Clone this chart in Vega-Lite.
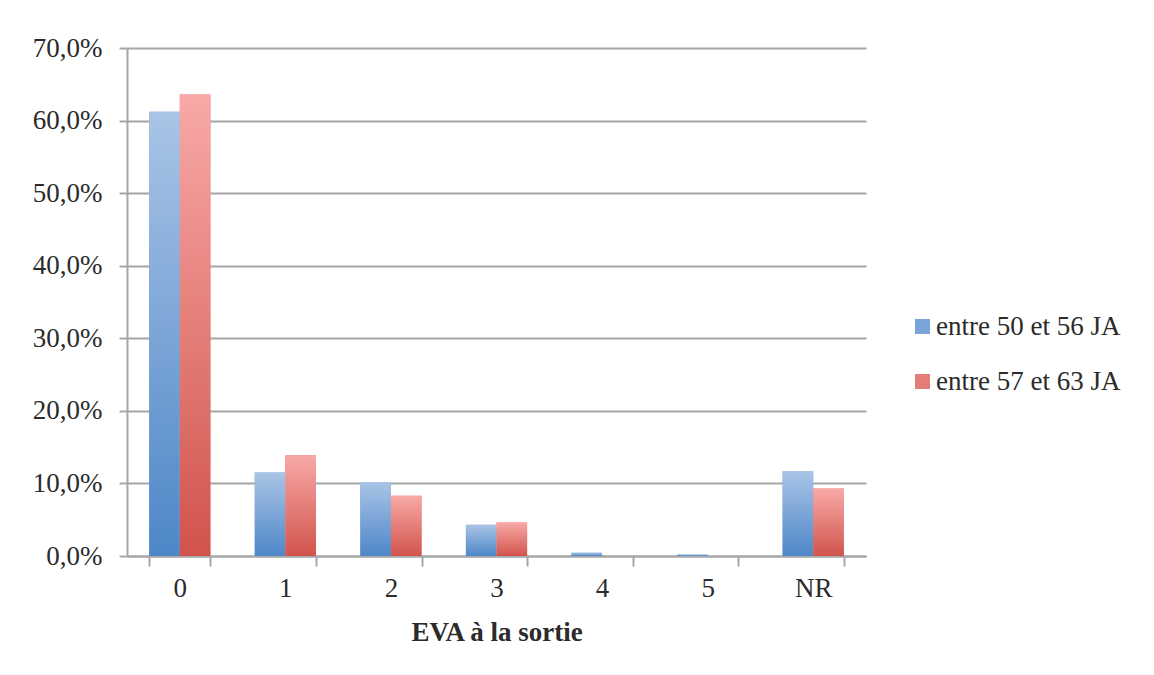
{
  "$schema": "https://vega.github.io/schema/vega-lite/v6.json",
  "width": 739,
  "height": 508,
  "padding": {"left": 127, "top": 48, "right": 288, "bottom": 119},
  "autosize": {"type": "none"},
  "background": "white",
  "config": {"view": {"stroke": null}, "font": "Liberation Serif", "legend": {"labelFont": "Liberation Serif, serif"}},
  "data": {
    "values": [
      {"eva": "0", "groupe": "entre 50 et 56 JA", "pct": 0.612},
      {"eva": "0", "groupe": "entre 57 et 63 JA", "pct": 0.636},
      {"eva": "1", "groupe": "entre 50 et 56 JA", "pct": 0.115},
      {"eva": "1", "groupe": "entre 57 et 63 JA", "pct": 0.139},
      {"eva": "2", "groupe": "entre 50 et 56 JA", "pct": 0.102},
      {"eva": "2", "groupe": "entre 57 et 63 JA", "pct": 0.083},
      {"eva": "3", "groupe": "entre 50 et 56 JA", "pct": 0.043},
      {"eva": "3", "groupe": "entre 57 et 63 JA", "pct": 0.046},
      {"eva": "4", "groupe": "entre 50 et 56 JA", "pct": 0.0045},
      {"eva": "4", "groupe": "entre 57 et 63 JA", "pct": 0},
      {"eva": "5", "groupe": "entre 50 et 56 JA", "pct": 0.002},
      {"eva": "5", "groupe": "entre 57 et 63 JA", "pct": 0},
      {"eva": "NR", "groupe": "entre 50 et 56 JA", "pct": 0.117},
      {"eva": "NR", "groupe": "entre 57 et 63 JA", "pct": 0.093}
    ]
  },
  "encoding": {
    "x": {
      "field": "eva",
      "type": "nominal",
      "sort": ["0", "1", "2", "3", "4", "5", "NR"],
      "scale": {"paddingInner": 0.42, "paddingOuter": 0.21},
      "axis": {
        "title": "EVA à la sortie",
        "labelAngle": 0,
        "tickBand": "extent",
        "domainColor": "#A6A6A6",
        "domainWidth": 2,
        "tickColor": "#A6A6A6",
        "tickWidth": 2,
        "tickSize": 10,
        "labelFont": "Liberation Serif",
        "labelFontSize": 27,
        "labelColor": "#2b2b2b",
        "labelPadding": 9,
        "titleFont": "Liberation Serif",
        "titleFontSize": 27,
        "titleFontWeight": "bold",
        "titleColor": "#2b2b2b",
        "titlePadding": 18
      }
    },
    "xOffset": {"field": "groupe", "type": "nominal", "sort": ["entre 50 et 56 JA", "entre 57 et 63 JA"], "scale": {"domain": ["entre 50 et 56 JA", "entre 57 et 63 JA"]}},
    "y": {
      "field": "pct",
      "type": "quantitative",
      "scale": {"domain": [0, 0.7]},
      "axis": {
        "title": null,
        "values": [0, 0.1, 0.2, 0.3, 0.4, 0.5, 0.6, 0.7],
        "labelExpr": "replace(format(datum.value, '.1%'), '.', ',')",
        "grid": true,
        "gridColor": "#A6A6A6",
        "gridWidth": 2,
        "domainColor": "#A6A6A6",
        "domainWidth": 2,
        "tickColor": "#A6A6A6",
        "tickWidth": 2,
        "tickSize": 8,
        "labelPadding": 17,
        "labelFont": "Liberation Serif",
        "labelFontSize": 27,
        "labelColor": "#2b2b2b"
      }
    }
  },
  "layer": [
    {
      "mark": {"type": "bar"},
      "encoding": {
        "color": {
          "field": "groupe",
          "type": "nominal",
          "scale": {"domain": ["entre 50 et 56 JA", "entre 57 et 63 JA"], "range": ["#7BA4D8", "#E47D77"]},
          "legend": {
            "title": null,
            "orient": "none",
            "legendX": 782,
            "legendY": 265,
            "symbolType": "square",
            "symbolSize": 225,
            "symbolStrokeWidth": 0,
            "labelFont": "Liberation Serif, serif",
            "labelFontSize": 27,
            "labelLimit": 400,
            "labelColor": "#2b2b2b",
            "labelOffset": 0,
            "rowPadding": 27
          }
        }
      }
    },
    {
      "transform": [{"filter": "datum.groupe === 'entre 50 et 56 JA'"}],
      "mark": {
        "type": "bar",
        "color": {"gradient": "linear", "x1": 0, "y1": 0, "x2": 0, "y2": 1, "stops": [{"offset": 0, "color": "#A9C4E6"}, {"offset": 1, "color": "#4E87C8"}]}
      }
    },
    {
      "transform": [{"filter": "datum.groupe === 'entre 57 et 63 JA'"}],
      "mark": {
        "type": "bar",
        "color": {"gradient": "linear", "x1": 0, "y1": 0, "x2": 0, "y2": 1, "stops": [{"offset": 0, "color": "#F8A9A7"}, {"offset": 1, "color": "#D1544C"}]}
      }
    }
  ]
}
